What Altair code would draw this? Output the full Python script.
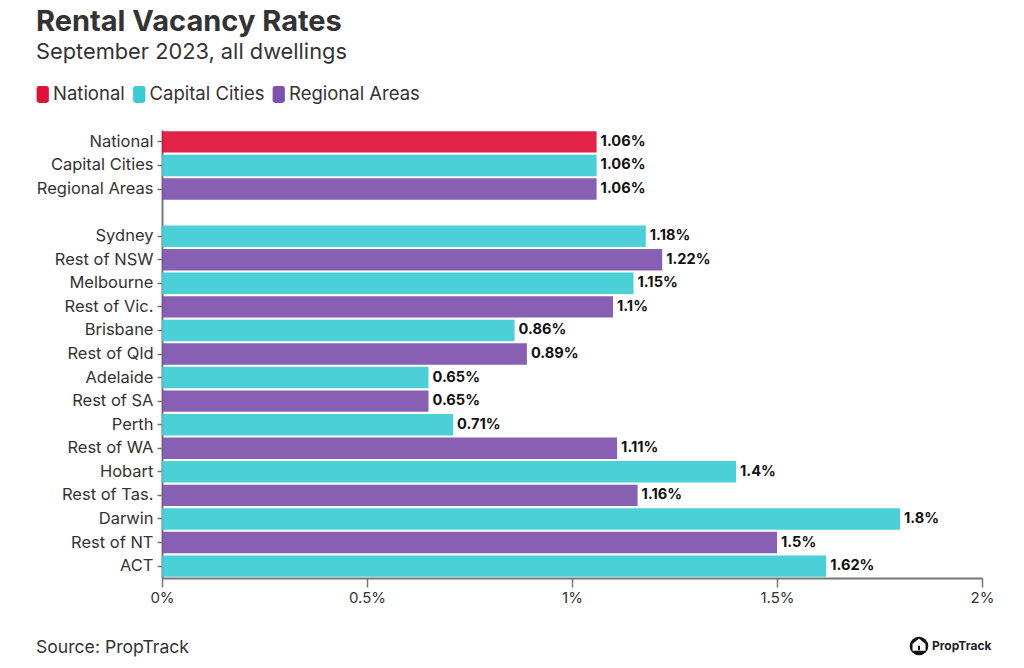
import altair as alt
import pandas as pd

names = ["National", "Capital Cities", "Regional Areas", "Sydney", "Rest of NSW", "Melbourne",
         "Rest of Vic.", "Brisbane", "Rest of Qld", "Adelaide", "Rest of SA", "Perth", "Rest of WA",
         "Hobart", "Rest of Tas.", "Darwin", "Rest of NT", "ACT"]
values = [1.06, 1.06, 1.06, 1.18, 1.22, 1.15, 1.1, 0.86, 0.89, 0.65, 0.65, 0.71, 1.11, 1.4, 1.16, 1.8, 1.5, 1.62]
groups = ["National", "Capital Cities", "Regional Areas"] + ["Capital Cities", "Regional Areas"] * 7 + ["Capital Cities"]
group_order = ["National", "Capital Cities", "Regional Areas"]
group_colors = ["#DF0F38", "#3BCCD3", "#7E52AC"]
slots = names[:3] + [" "] + names[3:]
x_ticks = [0, 0.5, 1, 1.5, 2]

df = pd.DataFrame({"name": names, "value": values, "group": groups})
df["label"] = [f"{v:g}%" for v in values]

FONT = "Inter"
TEXT = "#333333"
AXIS = "#777777"
ROUNDED = "M-0.42,-1H0.42A0.3,0.3 0 0 1 0.72,-0.7V0.7A0.3,0.3 0 0 1 0.42,1H-0.42A0.3,0.3 0 0 1 -0.72,0.7V-0.7A0.3,0.3 0 0 1 -0.42,-1Z"
HOUSE = "M0,-1L1,-0.15V0.9H-1V-0.15Z"
DOOR = "M-0.4,-0.9H0.4V0.9H-0.4Z"

xs = alt.X("value:Q", scale=alt.Scale(domain=[0, 2], nice=False, zero=True),
           axis=alt.Axis(values=x_ticks, labelExpr="datum.value + '%'", title=None, grid=False,
                         domainColor=AXIS, domainWidth=2, tickColor=AXIS, tickSize=9, tickWidth=1.5,
                         labelFont=FONT, labelFontSize=15, labelColor=TEXT, labelPadding=3, labelFlush=False))
ys = alt.Y("name:N", sort=slots,
           scale=alt.Scale(domain=slots, paddingInner=0.09, paddingOuter=0.05),
           axis=alt.Axis(values=names, title=None, domainColor=AXIS, domainWidth=2, tickColor=AXIS, tickSize=5,
                         tickWidth=1.5, labelFont=FONT, labelFontSize=16.5, labelColor=TEXT, labelPadding=4))

bars = alt.Chart(df).mark_bar(opacity=0.92).encode(
    x=xs, y=ys,
    color=alt.Color("group:N", scale=alt.Scale(domain=group_order, range=group_colors),
                    legend=alt.Legend(title=None, orient="none", legendX=-128.5, legendY=-45,
                                      direction="horizontal", columns=3, symbolType=ROUNDED, symbolSize=289,
                                      symbolOpacity=1, labelFont=FONT, labelFontSize=18.5, labelColor=TEXT,
                                      columnPadding=4.5, labelOffset=1, symbolStrokeWidth=0)),
)
labels = alt.Chart(df).mark_text(align="left", dx=4, font=FONT, fontSize=14.6, fontWeight="bold", color="#111111").encode(
    x="value:Q", y=alt.Y("name:N", sort=slots), text="label:N")

anno = pd.DataFrame({"k": [0]})
source = alt.Chart(anno).mark_text(align="left", font=FONT, fontSize=17.6, color=TEXT).encode(
    x=alt.value(-126), y=alt.value(518), text=alt.value("Source: PropTrack"))
logo_c = alt.Chart(anno).mark_point(filled=True, shape="circle", size=346, color="#111111", opacity=1).encode(
    x=alt.value(757), y=alt.value(516))
logo_h = alt.Chart(anno).mark_point(filled=True, shape=HOUSE, size=169, color="#ffffff", opacity=1).encode(
    x=alt.value(757), y=alt.value(515))
logo_d = alt.Chart(anno).mark_point(filled=True, shape=DOOR, size=25, color="#111111", opacity=1).encode(
    x=alt.value(757), y=alt.value(518))
logo_t = alt.Chart(anno).mark_text(align="left", font=FONT, fontSize=12, fontWeight="bold", color="#222222").encode(
    x=alt.value(770), y=alt.value(516), text=alt.value("PropTrack"))

chart = alt.layer(bars, labels, source, logo_c, logo_h, logo_d, logo_t).resolve_scale(y="shared").properties(
    width=820, height=448,
    padding={"left": 25, "top": 0, "right": 10, "bottom": 0},
    title=alt.TitleParams("Rental Vacancy Rates", subtitle="September 2023, all dwellings", anchor="start", frame="group",
                          dx=-126, font=FONT, fontSize=29, fontWeight="bold", color=TEXT,
                          subtitleFont=FONT, subtitleFontSize=21.8, subtitleColor=TEXT, subtitlePadding=5, offset=21),
).configure_view(stroke=None).configure_axisY(labelLimit=200)

chart.save("out.html", embed_options={"renderer": "svg", "actions": False})
